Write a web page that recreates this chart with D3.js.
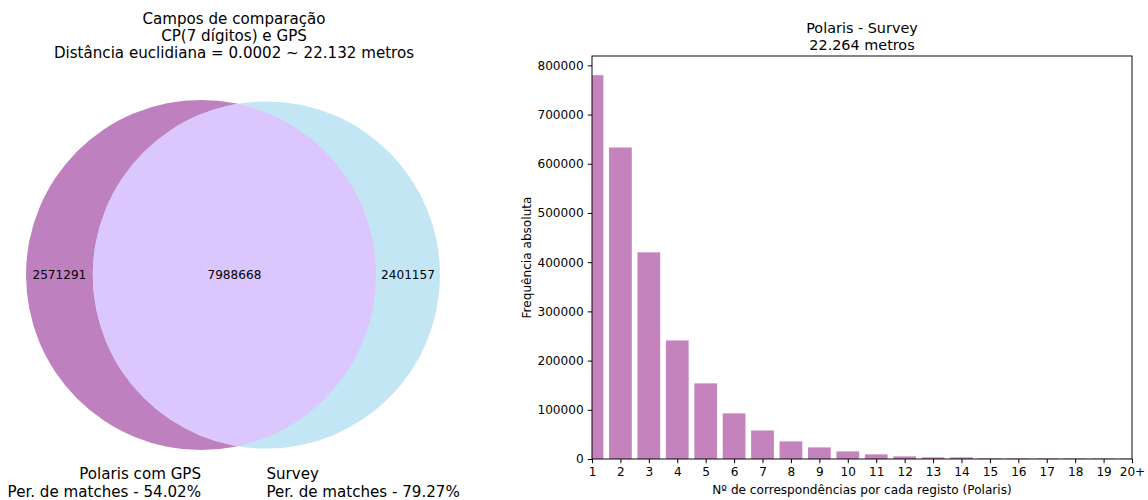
<!DOCTYPE html>
<html>
<head>
<meta charset="utf-8">
<script src="https://cdn.jsdelivr.net/npm/d3@7"></script>
<style>
  html, body { margin: 0; padding: 0; background: #ffffff; }
  svg { display: block; font-family: "DejaVu Sans", sans-serif; }
</style>
</head>
<body>
<svg id="chart" width="1148" height="500"></svg>
<script>
// ---- Venn diagram data ----
const vennTitle = [
  "Campos de comparação",
  "CP(7 dígitos) e GPS",
  "Distância euclidiana = 0.0002 ~ 22.132 metros"
];
const vennSetNames = ["Polaris com GPS", "Survey"];
const vennMatchPct = ["54.02%", "79.27%"];
// counts: only A, only B, A and B
const vennCounts = [2571291, 2401157, 7988668];
const vennColors = ["#bf80bf", "#c2e6f4", "#dbc6fd"];

// ---- Bar chart data ----
const barTitle = ["Polaris - Survey", "22.264 metros"];
const bins = ["1","2","3","4","5","6","7","8","9","10","11","12","13","14","15","16","17","18","19","20+"];
const freq = [780000, 633000, 420000, 241000, 153700, 92700, 58000, 35800, 23600, 15400,
              9400, 5300, 3300, 3300, 1300, 1200, 1100, 1000, 1000, 1000];
const yTicks = [0, 100000, 200000, 300000, 400000, 500000, 600000, 700000, 800000];
const xLabel = "Nº de correspondências por cada registo (Polaris)";
const yLabel = "Frequência absoluta";
const barColor = "#c583bd";

const bigFont = 15.1;
const barTitleFont = 14.4;
const smallFont = 12.1;

const svg = d3.select("#chart");

// ================= Venn =================
(function drawVenn() {
  const g = svg.append("g");
  const sizeA = vennCounts[0] + vennCounts[2];
  const sizeB = vennCounts[1] + vennCounts[2];
  const rA = Math.sqrt(sizeA / Math.PI);
  const rB = Math.sqrt(sizeB / Math.PI);

  function lens(r1, r2, d) {
    if (d >= r1 + r2) return 0;
    if (d <= Math.abs(r1 - r2)) return Math.PI * Math.min(r1, r2) ** 2;
    const a = r1 * r1 * Math.acos((d * d + r1 * r1 - r2 * r2) / (2 * d * r1));
    const b = r2 * r2 * Math.acos((d * d + r2 * r2 - r1 * r1) / (2 * d * r2));
    const c = 0.5 * Math.sqrt((-d + r1 + r2) * (d + r1 - r2) * (d - r1 + r2) * (d + r1 + r2));
    return a + b - c;
  }
  // find centre distance giving the overlap area
  let lo = Math.abs(rA - rB) + 1e-9, hi = rA + rB;
  for (let i = 0; i < 100; i++) {
    const mid = (lo + hi) / 2;
    if (lens(rA, rB, mid) > vennCounts[2]) lo = mid; else hi = mid;
  }
  const dist = (lo + hi) / 2;

  // fit the diagram into its panel
  const left = 26, right = 440, cy = 275;
  const sx = d3.scaleLinear().domain([-rA, dist + rB]).range([left, right]);
  const k = (right - left) / (rA + dist + rB);
  const cxA = sx(0), cxB = sx(dist);
  const RA = rA * k, RB = rB * k;

  const defs = svg.append("defs");
  defs.append("clipPath").attr("id", "clipA")
    .append("circle").attr("cx", cxA).attr("cy", cy).attr("r", RA);

  g.append("circle").attr("cx", cxA).attr("cy", cy).attr("r", RA).attr("fill", vennColors[0]);
  g.append("circle").attr("cx", cxB).attr("cy", cy).attr("r", RB).attr("fill", vennColors[1]);
  g.append("circle").attr("cx", cxB).attr("cy", cy).attr("r", RB)
    .attr("fill", vennColors[2]).attr("clip-path", "url(#clipA)");

  // subset labels at the middle of each region along the centre line
  const xs = [
    ((cxA - RA) + (cxB - RB)) / 2,
    ((cxA + RA) + (cxB + RB)) / 2,
    ((cxB - RB) + (cxA + RA)) / 2
  ];
  g.selectAll("text.subset").data(vennCounts).enter().append("text")
    .attr("class", "subset")
    .attr("x", (d, i) => xs[i]).attr("y", cy).attr("dy", "0.36em")
    .attr("text-anchor", "middle").attr("font-size", smallFont).attr("fill", "#000")
    .text(d => d);

  // set labels below each circle
  const setLab = [
    { x: cxA, anchor: "end", lines: [vennSetNames[0], "Per. de matches - " + vennMatchPct[0]] },
    { x: cxB, anchor: "start", lines: [vennSetNames[1], "Per. de matches - " + vennMatchPct[1]] }
  ];
  setLab.forEach(s => {
    const t = g.append("text").attr("text-anchor", s.anchor).attr("font-size", bigFont).attr("fill", "#000");
    s.lines.forEach((ln, i) => {
      t.append("tspan").attr("x", s.x).attr("y", 479 + i * 17.6).text(ln);
    });
  });

  // title
  const tt = g.append("text").attr("text-anchor", "middle").attr("font-size", bigFont).attr("fill", "#000");
  vennTitle.forEach((ln, i) => {
    tt.append("tspan").attr("x", (left + right) / 2 + 1).attr("y", 24 + i * 16.8).text(ln);
  });
})();

// ================= Bar chart =================
(function drawBars() {
  const m = { left: 592, right: 1132, top: 56, bottom: 459 };
  const g = svg.append("g");
  const x = d3.scaleLinear().domain([1, bins.length]).range([m.left, m.right]);
  const y = d3.scaleLinear().domain([0, d3.max(freq) * 1.05]).range([m.bottom, m.top]);

  svg.select("defs").append("clipPath").attr("id", "clipAxes")
    .append("rect").attr("x", m.left).attr("y", m.top)
    .attr("width", m.right - m.left).attr("height", m.bottom - m.top);

  g.append("g").attr("clip-path", "url(#clipAxes)")
    .selectAll("rect").data(freq).enter().append("rect")
    .attr("x", (d, i) => x(i + 1 - 0.4))
    .attr("width", x(1.8) - x(1))
    .attr("y", d => y(d))
    .attr("height", d => y(0) - y(d))
    .attr("fill", barColor);

  // x axis
  const xAxis = d3.axisBottom(x)
    .tickValues(d3.range(1, bins.length + 1))
    .tickFormat((d, i) => bins[i])
    .tickSize(4.2).tickPadding(4.2);
  const gx = g.append("g").attr("transform", `translate(0,${m.bottom})`).call(xAxis);
  gx.select(".domain").remove();
  gx.selectAll("text").attr("font-size", smallFont).attr("font-family", "DejaVu Sans").attr("fill", "#000");
  gx.selectAll("line").attr("stroke", "#000").attr("stroke-width", 1);

  // y axis
  const yAxis = d3.axisLeft(y).tickValues(yTicks).tickFormat(d3.format("d"))
    .tickSize(4.2).tickPadding(4.2);
  const gy = g.append("g").attr("transform", `translate(${m.left},0)`).call(yAxis);
  gy.select(".domain").remove();
  gy.selectAll("text").attr("font-size", smallFont).attr("font-family", "DejaVu Sans").attr("fill", "#000");
  gy.selectAll("line").attr("stroke", "#000").attr("stroke-width", 1);

  // frame
  g.append("rect").attr("x", m.left).attr("y", m.top)
    .attr("width", m.right - m.left).attr("height", m.bottom - m.top)
    .attr("fill", "none").attr("stroke", "#000").attr("stroke-width", 0.96);

  // labels
  g.append("text").attr("x", (m.left + m.right) / 2).attr("y", 494)
    .attr("text-anchor", "middle").attr("font-size", smallFont).attr("fill", "#000").text(xLabel);
  g.append("text").attr("transform", `translate(530.5,${(m.top + m.bottom) / 2}) rotate(-90)`)
    .attr("text-anchor", "middle").attr("font-size", smallFont).attr("fill", "#000").text(yLabel);

  const tt = g.append("text").attr("text-anchor", "middle").attr("font-size", barTitleFont).attr("fill", "#000");
  barTitle.forEach((ln, i) => {
    tt.append("tspan").attr("x", (m.left + m.right) / 2).attr("y", 33 + i * 16.5).text(ln);
  });
})();
</script>
</body>
</html>
